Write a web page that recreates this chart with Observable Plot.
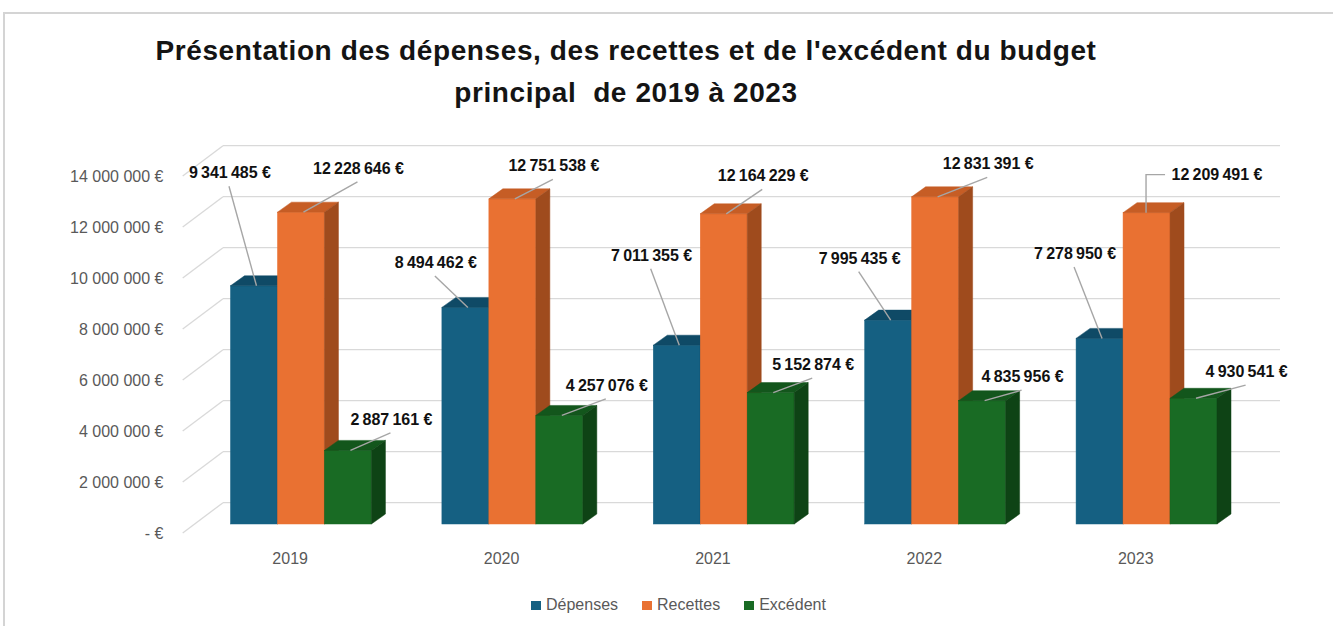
<!DOCTYPE html>
<html>
<head>
<meta charset="utf-8">
<script src="https://cdn.jsdelivr.net/npm/d3@7"></script>
<script src="https://cdn.jsdelivr.net/npm/@observablehq/plot@0.6"></script>
<style>
  html, body { margin: 0; padding: 0; background: #ffffff; }
  #root { position: relative; width: 1333px; height: 626px; overflow: hidden; font-family: "Liberation Sans", Arial, sans-serif; }
  #frame { position: absolute; left: 3px; top: 12px; width: 1400px; height: 700px; border-top: 2px solid #d4d4d4; border-left: 2px solid #d4d4d4; }
  #title { position: absolute; left: 0; top: 30px; width: 1252px; text-align: center; font-weight: bold; font-size: 28px; letter-spacing: 0.6px; line-height: 42px; color: #141414; white-space: pre; }
  #chart { position: absolute; left: 0; top: 120px; }
  #legend { position: absolute; left: 531px; top: 596px; display: flex; align-items: center; font-size: 16px; color: #595959; white-space: nowrap; }
  #legend .item { display: flex; align-items: center; margin-right: 24px; }
  #legend .sw { width: 10px; height: 9px; margin-right: 5px; }
</style>
</head>
<body>
<div id="root">
  <div id="frame"></div>
  <div id="title"></div>
  <div id="chart"></div>
  <div id="legend"></div>
</div>
<script>
// ---- Data ----
const titleLines = ["Présentation des dépenses, des recettes et de l'excédent du budget", "principal  de 2019 à 2023"];
const years = ["2019", "2020", "2021", "2022", "2023"];
const series = ["Dépenses", "Recettes", "Excédent"];
const depenses = [9341485, 8494462, 7011355, 7995435, 7278950];
const recettes = [12228646, 12751538, 12164229, 12831391, 12209491];
const excedent = [2887161, 4257076, 5152874, 4835956, 4930541];
const yTicks = [0, 2000000, 4000000, 6000000, 8000000, 10000000, 12000000, 14000000];

// ---- Styles / layout ----
const colors = ["#156082", "#E97132", "#196B24"];
const topColors = ["#0f4a66", "#c65d25", "#13561c"];
const sideColors = ["#0c3c52", "#9f4b1d", "#0e4315"];
const depth = {dx: 14, dy: -10};
// label offsets (px) from the bar's top anchor, per series, per year
const labelOffsets = {
  "Dépenses": [[-26.5, -113], [-32, -45], [-27.6, -90], [-31, -62], [-27, -85]],
  "Recettes": [[55, -43.7], [39, -33], [37, -38], [50.6, -33], [68, -38]],
  "Excédent": [[41, -31], [45, -30], [40, -28], [38, -24], [50.6, -26.6]]
};
const elbowLabels = ["Recettes|2023"];

const seriesValues = [depenses, recettes, excedent];
const rows = years.flatMap((year, j) => series.map((s, k) => ({year, series: s, value: seriesValues[k][j], k, j})));

function groupDigits(v, sep) {
  return String(Math.round(v)).replace(/\B(?=(\d{3})+(?!\d))/g, sep);
}
const fmtAxis = v => v === 0 ? "- €" : groupDigits(v, " ") + " €";
const fmtLabel = v => groupDigits(v, "\u2009") + " €";
const bw = s => typeof s.bandwidth === "function" ? s.bandwidth() : s.bandwidth;

// ---- Title ----
document.getElementById("title").textContent = titleLines.join("\n");

// ---- Custom marks ----
function wallMark(index, scales, values, dims) {
  const y = scales.y;
  const g = d3.create("svg:g").attr("stroke", "#d9d9d9").attr("stroke-width", 1.3).attr("fill", "none");
  const xl = dims.marginLeft, xr = dims.width - dims.marginRight;
  for (const t of yTicks) {
    const yy = y(t);
    g.append("line").attr("x1", xl - 7.5).attr("x2", xr + 63).attr("y1", yy - 21.3).attr("y2", yy - 21.3);
    g.append("line").attr("x1", xl - 47.8).attr("y1", yy + 9).attr("x2", xl - 7.5).attr("y2", yy - 21.3);
  }
  return g.node();
}

function bars3D(index, scales) {
  const {x, y} = scales;
  const g = d3.create("svg:g");
  const w = bw(x) / series.length;
  const yb = y(0);
  for (const r of rows) {
    const x0 = x(r.year) + r.k * w, yt = y(r.value);
    g.append("rect").attr("x", x0).attr("y", yt).attr("width", w).attr("height", yb - yt)
      .attr("fill", colors[r.k]).attr("stroke", colors[r.k]).attr("stroke-width", 0.5);
    g.append("polygon")
      .attr("points", [[x0, yt], [x0 + depth.dx, yt + depth.dy], [x0 + w + depth.dx, yt + depth.dy], [x0 + w, yt]].join(" "))
      .attr("fill", topColors[r.k]).attr("stroke", topColors[r.k]).attr("stroke-width", 0.5);
    g.append("polygon")
      .attr("points", [[x0 + w, yt], [x0 + w + depth.dx, yt + depth.dy], [x0 + w + depth.dx, yb + depth.dy], [x0 + w, yb]].join(" "))
      .attr("fill", sideColors[r.k]).attr("stroke", sideColors[r.k]).attr("stroke-width", 0.5);
  }
  return g.node();
}

function labelsMark(index, scales) {
  const {x, y} = scales;
  const g = d3.create("svg:g");
  const w = bw(x) / series.length;
  for (const r of rows) {
    const ex = x(r.year) + r.k * w + w / 2 + 2.5, ey = y(r.value);
    const [ox, oy] = labelOffsets[r.series][r.j];
    const cx = ex + ox, cy = ey + oy;
    const elbow = elbowLabels.includes(r.series + "|" + r.year);
    const pts = elbow ? [[cx - 52, cy], [ex - 3, cy], [ex - 3, ey]] : [[cx - 1, cy + 13.5], [ex, ey]];
    g.append("polyline").attr("points", pts.join(" ")).attr("fill", "none")
      .attr("stroke", "#a6a6a6").attr("stroke-width", 1.4);
    g.append("text").attr("x", cx).attr("y", cy).attr("dy", "0.35em").attr("text-anchor", "middle")
      .attr("font-weight", "bold").attr("font-size", 16).attr("fill", "#111111").text(fmtLabel(r.value));
  }
  return g.node();
}

// ---- Plot ----
const chart = Plot.plot({
  width: 1333,
  height: 460,
  marginLeft: 230.5,
  marginRight: 116,
  marginTop: 47,
  marginBottom: 56,
  x: {type: "band", domain: years, paddingInner: 1 / 3, paddingOuter: 0, round: false, axis: null},
  y: {domain: [0, 14000000], axis: null},
  style: {fontFamily: "'Liberation Sans', Arial, sans-serif", fontSize: "16px", background: "transparent", overflow: "visible"},
  marks: [
    wallMark,
    Plot.text(yTicks, {y: d => d, text: fmtAxis, frameAnchor: "left", textAnchor: "end", lineAnchor: "middle", dx: -67.5, dy: 9, fill: "#595959", fontSize: 16}),
    bars3D,
    labelsMark,
    Plot.text(years, {x: d => d, text: d => d, frameAnchor: "bottom", lineAnchor: "middle", dx: -11.3, dy: 34, fill: "#595959", fontSize: 16})
  ]
});
document.getElementById("chart").appendChild(chart);

// ---- Legend ----
const legend = d3.select("#legend");
series.forEach((s, k) => {
  const item = legend.append("div").attr("class", "item");
  item.append("div").attr("class", "sw").style("background", colors[k]);
  item.append("span").text(s);
});
</script>
</body>
</html>
